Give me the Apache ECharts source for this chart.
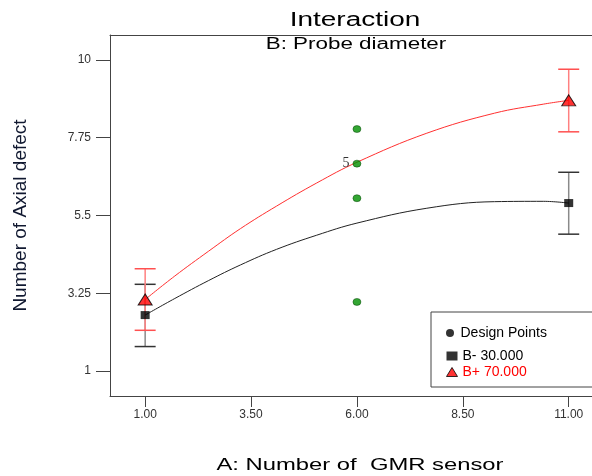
<!DOCTYPE html>
<html>
<head>
<meta charset="utf-8">
<script src="https://cdn.jsdelivr.net/npm/echarts@6/dist/echarts.min.js"></script>
<style>
  html, body { margin: 0; padding: 0; background: #fff; }
  #chart { width: 592px; height: 476px; }
</style>
</head>
<body>
<div id="chart"></div>
<script>
// tick values / labels
var xTickValues = [1, 3.5, 6, 8.5, 11];
var xTickLabels = ['1.00', '3.50', '6.00', '8.50', '11.00'];
var yTickValues = [1, 3.25, 5.5, 7.75, 10];
var yTickLabels = ['1', '3.25', '5.5', '7.75', '10'];

// design points (A = 6)
var designX = [6, 6, 6, 6];
var designY = [8, 7, 6, 3];
var designCount = ['', '5', '', ''];

// fitted curves
var curveX = [1, 1.7, 2.5, 3.25, 4.1, 5.05, 6, 7.65, 9.25, 10.4, 11];
var lowCurveY = [2.62, 3.1, 3.62, 4.07, 4.52, 4.93, 5.28, 5.71, 5.9, 5.91, 5.86];   // B- 30.000
var highCurveY = [3.07, 3.75, 4.47, 5.12, 5.77, 6.44, 7.04, 7.88, 8.46, 8.72, 8.83]; // B+ 70.000

// end points with interval bars
var endX = [1, 11];
var lowMean = [2.62, 5.86];
var lowBottom = [1.71, 4.96];
var lowTop = [3.51, 6.75];
var highMean = [3.07, 8.83];
var highBottom = [2.18, 7.92];
var highTop = [3.96, 9.73];

function pairs(xs, ys) {
    var out = [];
    for (var i = 0; i < xs.length; i++) out.push([xs[i], ys[i]]);
    return out;
}
function bars(xs, lo, hi) {
    var out = [];
    for (var i = 0; i < xs.length; i++) out.push([xs[i], lo[i], hi[i]]);
    return out;
}
function errorBar(capColor, stemColor) {
    return function (params, api) {
        var top = api.coord([api.value(0), api.value(2)]);
        var bot = api.coord([api.value(0), api.value(1)]);
        var hw = 10.5;
        return {
            type: 'group',
            children: [
                { type: 'line', shape: { x1: top[0], y1: top[1], x2: bot[0], y2: bot[1] }, style: { stroke: stemColor, lineWidth: 1.5 } },
                { type: 'line', shape: { x1: top[0] - hw, y1: top[1], x2: top[0] + hw, y2: top[1] }, style: { stroke: capColor, lineWidth: 1.5 } },
                { type: 'line', shape: { x1: bot[0] - hw, y1: bot[1], x2: bot[0] + hw, y2: bot[1] }, style: { stroke: capColor, lineWidth: 1.5 } }
            ]
        };
    };
}

var font = 'Liberation Sans, Arial, sans-serif';
var chart = echarts.init(document.getElementById('chart'), null, { renderer: 'canvas' });

var option = {
    animation: false,
    backgroundColor: '#fff',
    textStyle: { fontFamily: font },
    grid: { left: 110, top: 35, width: 482, height: 361 },
    graphic: [
        { type: 'text', x: 355, y: 20, scaleX: 1.4, silent: true,
          style: { text: 'Interaction', fontSize: 20, fontFamily: font, fill: '#000', align: 'center', verticalAlign: 'middle' } },
        { type: 'text', x: 356, y: 45, scaleX: 1.4, silent: true,
          style: { text: 'B: Probe diameter', fontSize: 16, fontFamily: font, fill: '#000', align: 'center', verticalAlign: 'middle' } },
        { type: 'text', x: 360, y: 465, scaleX: 1.4, silent: true,
          style: { text: 'A: Number of  GMR sensor', fontSize: 17, fontFamily: font, fill: '#000', align: 'center', verticalAlign: 'middle' } }
    ],
    legend: [
        {
            data: [{ name: 'Design Points', icon: 'circle', itemStyle: { color: '#000', borderWidth: 0 } }],
            orient: 'vertical', left: 431, top: 312,
            padding: [14, 140, 47, 15],
            borderColor: '#444', borderWidth: 1,
            itemWidth: 11, itemHeight: 8,
            selectedMode: false,
            textStyle: { fontSize: 14, color: '#000', fontFamily: font }
        },
        {
            data: [
                { name: 'B- 30.000', icon: 'rect', itemStyle: { color: '#000', borderWidth: 0 } },
                { name: 'B+ 70.000', icon: 'triangle', itemStyle: { color: '#ff0000', borderColor: '#000', borderWidth: 1 }, textStyle: { color: '#ff0000' } }
            ],
            orient: 'vertical', left: 446, top: 349,
            padding: 0, itemGap: 2,
            itemWidth: 11, itemHeight: 9,
            selectedMode: false,
            textStyle: { fontSize: 14, color: '#000', fontFamily: font }
        }
    ],
    xAxis: [
        {
            type: 'value', min: 0.17, max: 11.55,
            axisLine: { show: true, lineStyle: { color: '#444', width: 1 } },
            axisTick: { show: true, length: 11, customValues: xTickValues, lineStyle: { color: '#444' } },
            axisLabel: {
                customValues: xTickValues, margin: 13, fontSize: 12, color: '#333', fontFamily: font,
                formatter: function (v) { var i = xTickValues.indexOf(v); return i >= 0 ? xTickLabels[i] : ''; }
            },
            splitLine: { show: false }
        },
        {
            // top frame line only
            type: 'value', position: 'top', min: 0.17, max: 11.55,
            axisLine: { show: true, onZero: false, lineStyle: { color: '#444', width: 1 } },
            axisTick: { show: false }, axisLabel: { show: false }, splitLine: { show: false }
        }
    ],
    yAxis: {
        type: 'value', min: 0.28, max: 10.72,
        name: 'Number of Axial defect', nameLocation: 'middle', nameGap: 80,
        nameTextStyle: { fontSize: 19, color: '#101830', fontFamily: font },
        axisLine: { show: true, lineStyle: { color: '#444', width: 1 } },
        axisTick: { show: true, length: 14, customValues: yTickValues, lineStyle: { color: '#444' } },
        axisLabel: {
            customValues: yTickValues, margin: 19, fontSize: 12, color: '#333', fontFamily: font,
            formatter: function (v) { var i = yTickValues.indexOf(v); return i >= 0 ? yTickLabels[i] : ''; }
        },
        splitLine: { show: false }
    },
    series: [
        {
            name: 'fit B-', type: 'line', data: pairs(curveX, lowCurveY),
            smooth: 0.4, showSymbol: false, silent: true,
            lineStyle: { color: '#222', width: 1 }
        },
        {
            name: 'fit B+', type: 'line', data: pairs(curveX, highCurveY),
            smooth: 0.4, showSymbol: false, silent: true,
            lineStyle: { color: '#ff3030', width: 1 }
        },
        {
            name: 'bars B-', type: 'custom', data: bars(endX, lowBottom, lowTop),
            renderItem: errorBar('#333', '#8a8a8a'), silent: true, z: 3
        },
        {
            name: 'bars B+', type: 'custom', data: bars(endX, highBottom, highTop),
            renderItem: errorBar('#ff5050', '#ff8080'), silent: true, z: 3
        },
        {
            name: 'Design Points', type: 'scatter',
            data: designX.map(function (x, i) {
                return {
                    value: [x, designY[i]],
                    label: { show: designCount[i] !== '', formatter: designCount[i], position: 'left', distance: 3,
                             fontSize: 14, color: '#000', fontFamily: 'Liberation Serif, serif' }
                };
            }),
            symbol: 'circle', symbolSize: [8, 7],
            itemStyle: { color: '#009000', borderColor: '#004000', borderWidth: 0.6 },
            z: 5
        },
        {
            name: 'B- 30.000', type: 'scatter', data: pairs(endX, lowMean),
            symbol: 'rect', symbolSize: [9, 8],
            itemStyle: { color: '#000' }, z: 6
        },
        {
            name: 'B+ 70.000', type: 'scatter', data: pairs(endX, highMean),
            symbol: 'triangle', symbolSize: [14, 11],
            itemStyle: { color: '#ff0000', borderColor: '#000', borderWidth: 1 }, z: 6
        }
    ]
};

chart.setOption(option);
window.addEventListener('resize', chart.resize);
</script>
</body>
</html>
